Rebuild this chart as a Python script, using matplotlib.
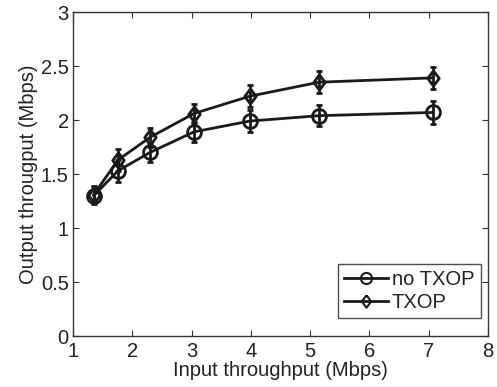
import matplotlib
matplotlib.use("Agg")
import matplotlib.pyplot as plt
from matplotlib.lines import Line2D

plt.rcParams['font.family'] = ['Liberation Sans', 'DejaVu Sans']

# Data
input_tp = [1.35, 1.76, 2.30, 3.04, 3.98, 5.15, 7.07]
no_txop = [1.30, 1.53, 1.70, 1.89, 1.99, 2.04, 2.07]
no_txop_err = [0.08, 0.10, 0.09, 0.09, 0.10, 0.10, 0.11]
txop = [1.31, 1.63, 1.84, 2.06, 2.22, 2.35, 2.39]
txop_err = [0.08, 0.10, 0.09, 0.09, 0.10, 0.10, 0.10]

fs = 14.5
col = '#1a1a1a'
# MATLAB-style diamond (a bit wider than matplotlib's thin 'd')
diamond = [(0, 1), (0.75, 0), (0, -1), (-0.75, 0), (0, 1)]

fig = plt.figure(figsize=(4.97, 3.87), dpi=100)
ax = fig.add_axes([73 / 497, 51 / 387, 415 / 497, 324 / 387])

ax.errorbar(input_tp, no_txop, yerr=no_txop_err, color=col, lw=2,
            marker='o', ms=10, mfc='none', mew=2, capsize=2.5, capthick=2,
            elinewidth=2)
ax.errorbar(input_tp, txop, yerr=txop_err, color=col, lw=2,
            marker=diamond, ms=11, mfc='none', mew=2, capsize=2.5, capthick=2,
            elinewidth=2)

ax.set_xlim(1, 8)
ax.set_ylim(0, 3)
ax.set_xticks(range(1, 9))
ax.set_yticks([0, 0.5, 1, 1.5, 2, 2.5, 3])
ax.set_yticklabels(['0', '0.5', '1', '1.5', '2', '2.5', '3'])
ax.tick_params(direction='in', top=True, right=True, length=4,
               labelsize=fs, color='#333333', labelcolor='#222222')
ax.tick_params(axis='x', pad=4)
ax.tick_params(axis='y', pad=3)
for s in ax.spines.values():
    s.set_color('#333333')
    s.set_linewidth(1)

ax.set_xlabel("Input throughput (Mbps)", fontsize=fs, color='#222222', labelpad=0)
ax.set_ylabel("Output througput (Mbps)", fontsize=fs, color='#222222', labelpad=2)

handles = [
    Line2D([], [], color=col, lw=2, marker='o', ms=8, mfc='none', mew=1.5),
    Line2D([], [], color=col, lw=2, marker=diamond, ms=9, mfc='none', mew=1.5),
]
leg = ax.legend(handles, ['no TXOP', 'TXOP'], loc='lower right', fontsize=fs,
                frameon=True, fancybox=False, edgecolor='#222222',
                handlelength=2.2, handletextpad=0.2, borderpad=0.3,
                labelspacing=0.2, borderaxespad=0, bbox_to_anchor=(0.982, 0.055))
leg.get_frame().set_linewidth(1)
for t in leg.get_texts():
    t.set_color('#222222')

fig.savefig("out.png", dpi=100)
